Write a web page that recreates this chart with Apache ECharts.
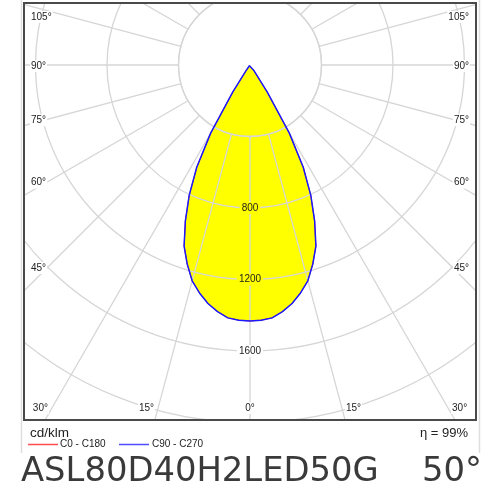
<!DOCTYPE html>
<html><head><meta charset="utf-8">
<script src="https://cdn.jsdelivr.net/npm/echarts@6/dist/echarts.min.js"></script>
<style>html,body{margin:0;padding:0;background:#fff}#c{width:500px;height:500px}</style>
</head><body><div id="c"></div>
<script>
// ---- data ----
const gammaAngles = [0,2.5,5,7.5,10,12.5,15,17.5,20,22.5,25,27.5,30,32.5,35,37.5,40,45,50,55,60,65,70,75,80,85,90,95,100,105,110,115,120,125,130,135,140,145,150,155,160,165,170,175,180];
const c0c180  = [1432,1429,1420,1392,1355,1306,1250,1168,1078,945,805,645,440,180,40,5,0,0,0,0,0,0,0,0,0,0,0,0,0,0,0,0,0,0,0,0,0,0,0,0,0,0,0,0,0];
const c90c270 = [1432,1429,1420,1392,1355,1306,1250,1168,1078,945,805,645,440,180,40,5,0,0,0,0,0,0,0,0,0,0,0,0,0,0,0,0,0,0,0,0,0,0,0,0,0,0,0,0,0];
const radiusMin = 400, radiusMax = 2400, radiusStep = 400;
const radiusLabels = [800, 1200, 1600];
const radiusLabelOnFill = [true, true, false];
const angleLabels = [0, 15, 30, 45, 60, 75, 90, 105];
const unitText = 'cd/klm';
const effText = 'η = 99%';
const legendNames = ['C0 - C180', 'C90 - C270'];
const titleText = 'ASL80D40H2LED50G';
const beamText = '50°';

// ---- layout ----
const CX = 250, CY = 65, PX = 71.5 / 400;
const BOX = {x: 24, y: 3, w: 452, h: 417};
const FONT = 'Liberation Sans, Arial, sans-serif';
const GRID = '#d6d6d6';

function fullCurve(vals) {
  const left = gammaAngles.map((g, i) => [vals[i], g]);
  const right = [];
  for (let i = gammaAngles.length - 1; i >= 0; i--) right.push([vals[i], 360 - gammaAngles[i]]);
  return left.concat(right);
}

const chart = echarts.init(document.getElementById('c'), null, {renderer: 'canvas'});

const graphics = [];
[[0, 0, 500, BOX.y], [0, 0, BOX.x, 500], [BOX.x + BOX.w, 0, 500, 500], [0, BOX.y + BOX.h, 500, 100]].forEach(r => {
  graphics.push({type: 'rect', z: 100, silent: true, shape: {x: r[0], y: r[1], width: r[2], height: r[3]}, style: {fill: '#fff'}});
});
graphics.push({type: 'rect', z: 101, silent: true, shape: {x: BOX.x, y: BOX.y, width: BOX.w, height: BOX.h}, style: {fill: null, stroke: '#4a4a4a', lineWidth: 2}});
graphics.push({type: 'line', z: 101, silent: true, shape: {x1: 21.5, y1: 0, x2: 21.5, y2: 453}, style: {stroke: '#dedede', lineWidth: 1.5}});
graphics.push({type: 'line', z: 101, silent: true, shape: {x1: 479.5, y1: 0, x2: 479.5, y2: 453}, style: {stroke: '#dedede', lineWidth: 1.5}});

angleLabels.forEach(g => {
  const a = g * Math.PI / 180, s = Math.sin(a), c = Math.cos(a);
  [-1, 1].forEach(side => {
    if (g === 0 && side === 1) return;
    const tx = s > 1e-9 ? (CX - 48) / s : Infinity;
    const ty = c > 1e-9 ? (408 - CY) / c : Infinity;
    let x, y, align;
    if (ty <= tx) {
      const px = CX + side * ty * s;
      y = 408;
      if (g === 0) { x = px; align = 'center'; }
      else { x = px + side * 3; align = side < 0 ? 'right' : 'left'; }
    } else {
      y = Math.max(CY + tx * c + 1, 17);
      x = side < 0 ? 30 : 470;
      align = side < 0 ? 'left' : 'right';
    }
    graphics.push({type: 'text', z: 102, silent: true, x: x, y: y,
      style: {text: g + '°', font: '10px ' + FONT, fill: '#222', align: align, verticalAlign: 'middle',
        backgroundColor: '#fff', padding: [1, 1]}});
  });
});

graphics.push({type: 'text', z: 102, x: 30, y: 433, style: {text: unitText, font: '13.5px ' + FONT, fill: '#222', align: 'left', verticalAlign: 'middle'}});
graphics.push({type: 'text', z: 102, x: 468, y: 433, style: {text: effText, font: '13px ' + FONT, fill: '#222', align: 'right', verticalAlign: 'middle'}});
graphics.push({type: 'line', z: 102, shape: {x1: 28, y1: 444.5, x2: 58, y2: 444.5}, style: {stroke: '#ff4d4d', lineWidth: 1.5}});
graphics.push({type: 'text', z: 102, x: 60, y: 444, style: {text: legendNames[0], font: '10px ' + FONT, fill: '#222', align: 'left', verticalAlign: 'middle'}});
graphics.push({type: 'line', z: 102, shape: {x1: 119, y1: 444.5, x2: 149, y2: 444.5}, style: {stroke: '#4d4dff', lineWidth: 1.5}});
graphics.push({type: 'text', z: 102, x: 152, y: 444, style: {text: legendNames[1], font: '10px ' + FONT, fill: '#222', align: 'left', verticalAlign: 'middle'}});
graphics.push({type: 'text', z: 102, x: 21, y: 472, style: {text: titleText, font: '33.8px DejaVu Sans, sans-serif', fill: '#3a3a3a', align: 'left', verticalAlign: 'middle'}});
graphics.push({type: 'text', z: 102, x: 482, y: 472, style: {text: beamText, font: '33.8px DejaVu Sans, sans-serif', fill: '#3a3a3a', align: 'right', verticalAlign: 'middle'}});

const hiddenAxis = {show: false, axisLine: {show: false}, axisTick: {show: false}, axisLabel: {show: false}, splitLine: {show: false}};

const option = {
  animation: false,
  backgroundColor: '#fff',
  polar: [
    {center: [CX, CY], radius: [radiusMin * PX, radiusMax * PX]},
    {center: [CX, CY], radius: [0, radiusMax * PX]}
  ],
  angleAxis: [
    {polarIndex: 0, type: 'value', min: 0, max: 360, interval: 15, startAngle: -90, clockwise: true, z: 2,
      axisLine: {show: true, lineStyle: {color: GRID, width: 1.3}},
      axisTick: {show: false}, axisLabel: {show: false},
      splitLine: {show: true, lineStyle: {color: GRID, width: 1.3}}},
    Object.assign({polarIndex: 1, type: 'value', min: 0, max: 360, interval: 15, startAngle: -90, clockwise: true}, hiddenAxis)
  ],
  radiusAxis: [
    {polarIndex: 0, type: 'value', min: radiusMin, max: radiusMax, interval: radiusStep, z: 3,
      axisLine: {show: false}, axisTick: {show: false},
      splitLine: {show: true, lineStyle: {color: GRID, width: 1.3}},
      axisLabel: {
        show: true, margin: 0, align: 'center', verticalAlign: 'middle',
        fontFamily: FONT, fontSize: 10, color: '#222',
        formatter: v => {
          const i = radiusLabels.indexOf(v);
          if (i < 0) return '';
          return '{' + (radiusLabelOnFill[i] ? 'y' : 'w') + '|' + v + '}';
        },
        rich: {
          y: {backgroundColor: '#ffff00', padding: [1, 2], fontFamily: FONT, fontSize: 10, color: '#222'},
          w: {backgroundColor: '#ffffff', padding: [1, 2], fontFamily: FONT, fontSize: 10, color: '#222'}
        }
      }},
    Object.assign({polarIndex: 1, type: 'value', min: 0, max: radiusMax}, hiddenAxis)
  ],
  series: [
    {type: 'line', polarIndex: 1, coordinateSystem: 'polar', data: fullCurve(c90c270), z: 1, clip: false,
      symbol: 'none', lineStyle: {width: 0, opacity: 0}, areaStyle: {color: '#ffff00', opacity: 1, origin: 0}, silent: true},
    {type: 'line', polarIndex: 1, name: legendNames[0], coordinateSystem: 'polar', data: fullCurve(c0c180), z: 4, clip: false,
      symbol: 'none', lineStyle: {color: '#ff0000', width: 0.8}, silent: true},
    {type: 'line', polarIndex: 1, name: legendNames[1], coordinateSystem: 'polar', data: fullCurve(c90c270), z: 5, clip: false,
      symbol: 'none', lineStyle: {color: '#1a1aff', width: 1.5}, silent: true}
  ],
  graphic: {elements: graphics}
};
chart.setOption(option);
</script>
</body></html>
